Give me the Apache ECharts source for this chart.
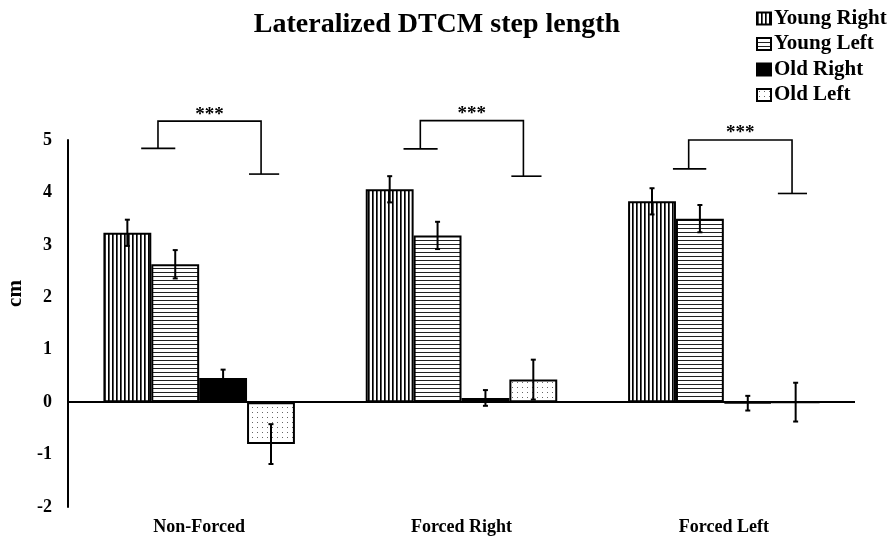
<!DOCTYPE html>
<html>
<head>
<meta charset="utf-8">
<script src="https://cdn.jsdelivr.net/npm/echarts@6/dist/echarts.min.js"></script>
<style>html,body{margin:0;padding:0;background:#fff}#c{width:895px;height:540px}</style>
</head>
<body>
<div id="c"></div>
<script>
// ---- data ----
const categories = ['Non-Forced', 'Forced Right', 'Forced Left'];
const seriesNames = ['Young Right', 'Young Left', 'Old Right', 'Old Left'];
const youngRight = [3.23, 4.06, 3.83];
const youngLeft = [2.63, 3.18, 3.50];
const oldRight = [0.46, 0.08, -0.02];
const oldLeft = [-0.80, 0.43, 0.00];
const youngRightErr = [0.25, 0.25, 0.25];
const youngLeftErr = [0.27, 0.26, 0.26];
const oldRightErr = [0.16, 0.15, 0.14];
const oldLeftErr = [0.38, 0.38, 0.37];
// significance brackets: [left foot, top, right foot] in cm
const bracketLevels = [[4.84, 5.36, 4.35], [4.83, 5.37, 4.31], [4.45, 5.00, 3.98]];
const bracketLabels = ['***', '***', '***'];
const yTicks = [-2, -1, 0, 1, 2, 3, 4, 5];

// ---- layout / style ----
const FONT = "'Liberation Serif', 'Times New Roman', serif";
const CAT_GAP = 0.27;
// bracket x layout in fractions of the category band: [lfL, lv, lfR, rfL, rv, rfR]
const BRACKET_X = [
  [-0.221, -0.157, -0.091, 0.190, 0.236, 0.305],
  [-0.221, -0.157, -0.091, 0.190, 0.236, 0.305],
  [-0.194, -0.134, -0.067, 0.206, 0.260, 0.317]
];

function makePattern(kind) {
  const c = document.createElement('canvas');
  const ctx = c.getContext('2d');
  if (kind === 'v') {
    c.width = 4; c.height = 4;
    ctx.fillStyle = '#fff'; ctx.fillRect(0, 0, 4, 4);
    ctx.fillStyle = '#000'; ctx.fillRect(0, 0, 1, 4);
    ctx.fillStyle = '#555'; ctx.fillRect(1, 0, 1, 4);
  } else if (kind === 'h') {
    c.width = 4; c.height = 4;
    ctx.fillStyle = '#fff'; ctx.fillRect(0, 0, 4, 4);
    ctx.fillStyle = '#222'; ctx.fillRect(0, 0, 4, 1);
  } else if (kind === 'd') {
    c.width = 10; c.height = 10;
    ctx.fillStyle = '#fff'; ctx.fillRect(0, 0, 10, 10);
    ctx.fillStyle = '#666';
    ctx.fillRect(2, 2, 1, 1);
    ctx.fillRect(7, 7, 1, 1);
    ctx.fillRect(7, 2, 1, 1);
    ctx.fillRect(2, 7, 1, 1);
  }
  return { image: c, repeat: 'repeat' };
}
const fills = [makePattern('v'), makePattern('h'), '#000', makePattern('d')];
const values = [youngRight, youngLeft, oldRight, oldLeft];
const errs = [youngRightErr, youngLeftErr, oldRightErr, oldLeftErr];

const barSeries = seriesNames.map((name, s) => ({
  name: name,
  type: 'bar',
  data: values[s],
  barGap: '0%',
  barCategoryGap: (CAT_GAP * 100) + '%',
  itemStyle: { color: fills[s], borderColor: '#000', borderWidth: 2 },
  emphasis: { disabled: true },
  z: 2
}));
barSeries[0].markLine = {
  silent: true,
  symbol: 'none',
  label: { show: false },
  lineStyle: { color: '#000', width: 2, type: 'solid' },
  data: [{ yAxis: 0 }]
};

const errData = [];
for (let s = 0; s < 4; s++) {
  for (let i = 0; i < categories.length; i++) {
    errData.push([i, values[s][i], errs[s][i], s]);
  }
}

const errSeries = {
  type: 'custom',
  data: errData,
  z: 5,
  silent: true,
  renderItem: function (params, api) {
    const i = api.value(0), v = api.value(1), e = api.value(2), s = api.value(3);
    const band = api.size([1, 0])[0];
    const bw = band * (1 - CAT_GAP) / 4;
    const cx = api.coord([i, v])[0] + (s - 1.5) * bw;
    const yt = api.coord([i, v + e])[1];
    const yb = api.coord([i, v - e])[1];
    const cap = 2.5;
    const st = { stroke: '#000', lineWidth: 2 };
    return {
      type: 'group',
      children: [
        { type: 'line', shape: { x1: cx, y1: yt, x2: cx, y2: yb }, style: st },
        { type: 'line', shape: { x1: cx - cap, y1: yt, x2: cx + cap, y2: yt }, style: st },
        { type: 'line', shape: { x1: cx - cap, y1: yb, x2: cx + cap, y2: yb }, style: st }
      ]
    };
  }
};

const bracketData = bracketLevels.map((b, i) => [i, b[0], b[1], b[2]]);
const bracketSeries = {
  type: 'custom',
  data: bracketData,
  z: 5,
  silent: true,
  clip: false,
  renderItem: function (params, api) {
    const i = api.value(0);
    const lf = api.value(1), top = api.value(2), rf = api.value(3);
    const band = api.size([1, 0])[0];
    const c = api.coord([i, top]);
    const cx = c[0], yTop = c[1];
    const yL = api.coord([i, lf])[1];
    const yR = api.coord([i, rf])[1];
    const L = BRACKET_X[i];
    const x = L.map(f => cx + f * band);
    const st = { stroke: '#000', lineWidth: 1.6, fill: null };
    return {
      type: 'group',
      children: [
        { type: 'polyline', shape: { points: [[x[1], yL], [x[1], yTop], [x[4], yTop], [x[4], yR]] }, style: st },
        { type: 'line', shape: { x1: x[0], y1: yL, x2: x[2], y2: yL }, style: st },
        { type: 'line', shape: { x1: x[3], y1: yR, x2: x[5], y2: yR }, style: st },
        {
          type: 'text',
          style: {
            text: bracketLabels[i], x: (x[1] + x[4]) / 2, y: yTop + 3,
            align: 'center', verticalAlign: 'bottom',
            font: 'bold 19px ' + FONT, fill: '#000'
          }
        }
      ]
    };
  }
};

const chart = echarts.init(document.getElementById('c'), null, { renderer: 'canvas' });
chart.setOption({
  animation: false,
  backgroundColor: '#fff',
  title: {
    text: 'Lateralized DTCM step length',
    left: 432, top: 6,
    textAlign: 'center',
    textStyle: { fontFamily: FONT, fontWeight: 'bold', fontSize: 28, color: '#000' }
  },
  legend: {
    orient: 'vertical',
    left: 756, top: 8,
    icon: 'rect',
    itemWidth: 14, itemHeight: 12,
    itemGap: 4.5,
    padding: 0,
    selectedMode: false,
    textStyle: { fontFamily: FONT, fontWeight: 'bold', fontSize: 21, color: '#000', lineHeight: 21, padding: [0, 0, 0, -2] },
    data: seriesNames
  },
  grid: { left: 68, right: 40, top: 140, bottom: 33, containLabel: false, outerBoundsMode: 'none' },
  xAxis: {
    type: 'category',
    data: categories,
    axisLine: { show: false, onZero: false },
    axisTick: { show: false },
    axisLabel: { margin: 11, fontFamily: FONT, fontWeight: 'bold', fontSize: 18, color: '#000' }
  },
  yAxis: {
    type: 'value',
    min: yTicks[0], max: yTicks[yTicks.length - 1], interval: 1,
    name: 'cm',
    nameLocation: 'middle',
    nameRotate: 90,
    nameGap: 42,
    nameTextStyle: { fontFamily: FONT, fontWeight: 'bold', fontSize: 21, color: '#000', padding: [0, 0, 0, 60] },
    axisLine: { show: true, lineStyle: { color: '#000', width: 2 } },
    axisTick: { show: false },
    splitLine: { show: false },
    axisLabel: { margin: 16, fontFamily: FONT, fontWeight: 'bold', fontSize: 18, color: '#000' }
  },
  series: barSeries.concat([errSeries, bracketSeries])
});
</script>
</body>
</html>
